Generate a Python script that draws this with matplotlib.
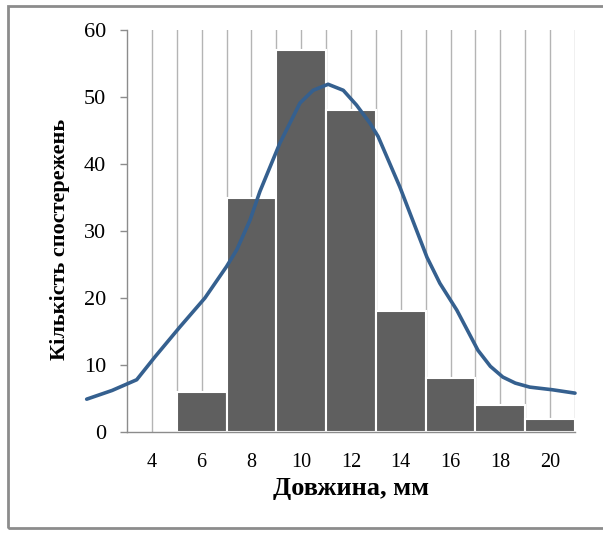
import numpy as np
import matplotlib.pyplot as plt
from matplotlib.patches import Rectangle

# histogram of lengths
bin_centers = [6, 8, 10, 12, 14, 16, 18, 20]
counts = [6, 35, 57, 48, 18, 8, 4, 2]

# fitted curve
curve_x = [1.38, 2.4, 3.39, 4.12, 5.13, 6.13, 7.0, 7.41, 7.94, 8.34, 9.14,
           9.95, 10.48, 11.08, 11.69, 12.22, 12.76, 13.09, 13.96, 15.05,
           15.57, 16.25, 17.1, 17.6, 18.1, 18.6, 19.18, 20.1, 21.0]
curve_y = [4.9, 6.2, 7.8, 11.2, 15.7, 20.0, 24.7, 27.2, 31.6, 35.9, 43.1,
           49.1, 51.0, 51.9, 51.0, 48.8, 46.1, 44.1, 36.6, 26.1,
           22.2, 18.2, 12.2, 9.8, 8.2, 7.3, 6.7, 6.3, 5.8]

xticks = [4, 6, 8, 10, 12, 14, 16, 18, 20]
yticks = [0, 10, 20, 30, 40, 50, 60]

plt.rcParams["font.family"] = ["Liberation Serif", "DejaVu Serif"]

fig = plt.figure(figsize=(6.03, 5.34), dpi=100)
ax = fig.add_axes([127 / 603, 102 / 534, 448 / 603, 402 / 534])

# outer frame of the chart area
fig.patches.append(Rectangle((8 / 603, 6 / 534), 1.0, 522 / 534,
                             transform=fig.transFigure, fill=False,
                             edgecolor="#8c8c8c", linewidth=2))

for gx in range(4, 22):
    ax.plot([gx, gx], [0, 60], color="#b4b4b4", linewidth=1.0, zorder=1)

ax.bar(bin_centers, counts, width=2, color="#5f5f5f", edgecolor="white",
       linewidth=1.5, zorder=2)

ax.plot(curve_x, curve_y, color="#35608f", linewidth=2.6,
        solid_joinstyle="round", solid_capstyle="round", clip_on=False, zorder=3)

ax.set_xlim(3, 21)
ax.set_ylim(0, 60)
ax.set_xticks(xticks)
ax.set_yticks(yticks)
ax.tick_params(axis="x", length=0, pad=15, labelsize=14.5)
ax.tick_params(axis="y", length=5, width=1, color="#8c8c8c", pad=10, labelsize=16)

for s in ["top", "right"]:
    ax.spines[s].set_visible(False)
for s in ["left", "bottom"]:
    ax.spines[s].set_color("#8c8c8c")
    ax.spines[s].set_linewidth(1)

ax.set_xlabel("Довжина, мм", fontsize=19, fontweight="bold", labelpad=4)
ax.set_ylabel("Кількість спостережень", fontsize=16, fontweight="bold")
ax.yaxis.set_label_coords(-0.128, 0.478)

fig.savefig("out.png", dpi=100)
